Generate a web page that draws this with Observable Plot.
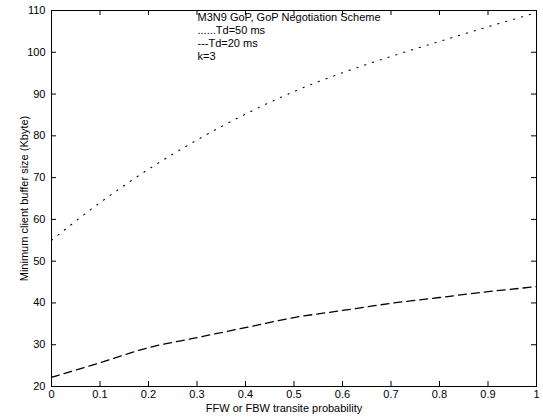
<!DOCTYPE html>
<html><head><meta charset="utf-8">
<script src="https://cdn.jsdelivr.net/npm/d3@7"></script>
<script src="https://cdn.jsdelivr.net/npm/@observablehq/plot@0.6"></script>
<style>body{margin:0;background:#fff}</style>
</head><body><div id="chart"></div>
<script>
const prob = [0, 0.1, 0.2, 0.3, 0.4, 0.5, 0.6, 0.7, 0.8, 0.9, 1.0];
const td50 = [55, 64, 72, 79, 85.2, 90.6, 95.1, 99, 102.6, 106.1, 109.5];
const td20 = [22.2, 25.7, 29.3, 31.7, 34.1, 36.5, 38.2, 39.9, 41.3, 42.7, 43.9];
const xTicks = [0, 0.1, 0.2, 0.3, 0.4, 0.5, 0.6, 0.7, 0.8, 0.9, 1];
const xTickLabels = ["0", "0.1", "0.2", "0.3", "0.4", "0.5", "0.6", "0.7", "0.8", "0.9", "1"];
const yTicks = [20, 30, 40, 50, 60, 70, 80, 90, 100, 110];
const legendLines = ["M3N9 GoP, GoP Negotiation Scheme", "......Td=50 ms", "---Td=20 ms", "k=3"];
const xLabel = "FFW or FBW transite probability";
const yLabel = "Minimum client buffer size (Kbyte)";

const rows50 = prob.map((p, i) => ({p, v: td50[i]}));
const rows20 = prob.map((p, i) => ({p, v: td20[i]}));
const fmtX = d => xTickLabels[xTicks.indexOf(d)];

const W = 543, H = 417, mL = 51, mR = 7, mT = 10, mB = 31, TICK = 5;
const innerW = W - mL - mR, innerH = H - mT - mB;

const chart = Plot.plot({
  width: W, height: H,
  marginLeft: mL, marginRight: mR, marginTop: mT, marginBottom: mB,
  style: {fontFamily: "'Liberation Sans', Arial, sans-serif", fontSize: "11px", background: "white", color: "black"},
  x: {domain: [0, 1]},
  y: {domain: [20, 110]},
  marks: [
    Plot.axisX(xTicks, {anchor: "bottom", tickSize: 0, tickPadding: 4, tickFormat: fmtX, label: null}),
    Plot.axisY(yTicks, {anchor: "left", tickSize: 0, tickPadding: 6, label: null}),
    // inward MATLAB-style ticks on all four sides
    Plot.tickX(xTicks, {x: d => d, insetTop: innerH - TICK, stroke: "black"}),
    Plot.tickX(xTicks, {x: d => d, insetBottom: innerH - TICK, stroke: "black"}),
    Plot.tickY(yTicks, {y: d => d, insetRight: innerW - TICK, stroke: "black"}),
    Plot.tickY(yTicks, {y: d => d, insetLeft: innerW - TICK, stroke: "black"}),
    Plot.frame({stroke: "black", strokeWidth: 1}),
    Plot.line(rows50, {x: "p", y: "v", curve: "monotone-x", stroke: "black", strokeWidth: 1.1, strokeDasharray: "1.2,7"}),
    Plot.line(rows20, {x: "p", y: "v", curve: "monotone-x", stroke: "black", strokeWidth: 1.3, strokeDasharray: "8,5"}),
    Plot.text([legendLines.join("\n")], {text: d => d, frameAnchor: "top-left", dx: 146, dy: 1, textAnchor: "start", lineAnchor: "top", lineHeight: 1.2, fill: "black", fontSize: 11}),
    Plot.text([xLabel], {text: d => d, frameAnchor: "bottom", dx: -10, dy: 22, textAnchor: "middle", lineAnchor: "middle", fill: "black", fontSize: 11}),
    Plot.text([yLabel], {text: d => d, frameAnchor: "left", dx: -27, rotate: -90, textAnchor: "middle", lineAnchor: "middle", fill: "black", fontSize: 11})
  ]
});
document.getElementById("chart").append(chart);
</script>
</body></html>
